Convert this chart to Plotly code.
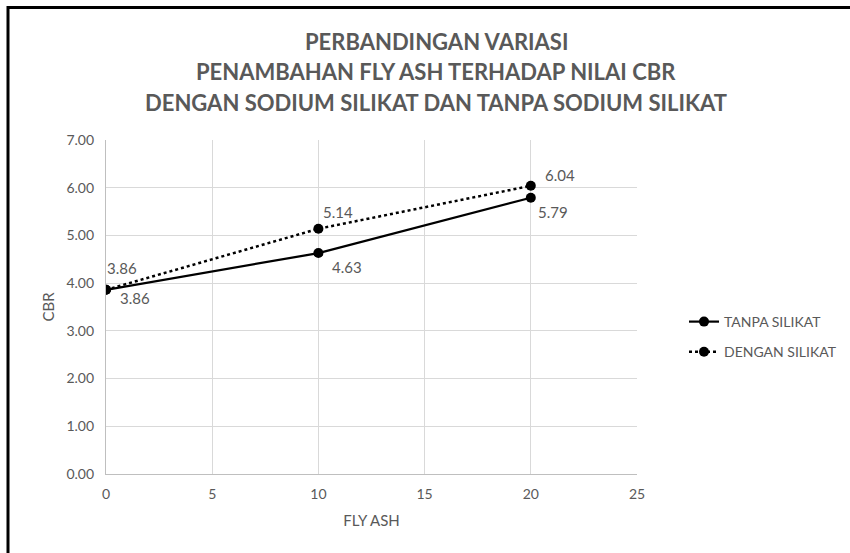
import plotly.graph_objects as go

# Data: fly ash content (%) vs CBR value
fly_ash = [0, 10, 20]
cbr_tanpa = [3.86, 4.63, 5.79]
cbr_dengan = [3.86, 5.14, 6.04]
series_names = ["TANPA SILIKAT", "DENGAN SILIKAT"]
title_lines = [
    "PERBANDINGAN VARIASI",
    "PENAMBAHAN FLY ASH TERHADAP NILAI CBR",
    "DENGAN SODIUM SILIKAT DAN TANPA SODIUM SILIKAT",
]
x_ticks = [0, 5, 10, 15, 20, 25]
y_ticks = [0, 1, 2, 3, 4, 5, 6, 7]

W, H = 850, 553
L, R, T, B = 106, 637, 140, 474  # plot area in pixels
FONT = "Lato"
GREY = "#595959"

def px(xp):
    return (xp - L) / (R - L)

def py(yp):
    return (B - yp) / (B - T)

fig = go.Figure()
fig.add_trace(go.Scatter(
    x=fly_ash, y=cbr_tanpa, name=series_names[0], mode="lines+markers",
    line=dict(color="black", width=2.2),
    marker=dict(color="black", size=10),
    legendgroup="a",
))
fig.add_trace(go.Scatter(
    x=fly_ash, y=cbr_dengan, name=series_names[1], mode="lines+markers",
    line=dict(color="black", width=2.5, dash="dot"),
    marker=dict(color="black", size=10),
    legendgroup="b",
))

# Data labels (pixel offsets from each point)
tanpa_offsets = [(29, -8), (29, -14), (22, -14)]
dengan_offsets = [(16, 22), (20, 17), (29, 11)]
for xs, ys, offs in ((fly_ash, cbr_tanpa, tanpa_offsets), (fly_ash, cbr_dengan, dengan_offsets)):
    for xv, yv, (dx, dy) in zip(xs, ys, offs):
        fig.add_annotation(
            x=xv, y=yv, xref="x", yref="y", text=f"{yv:.2f}", showarrow=False,
            xshift=dx, yshift=dy, font=dict(family=FONT, size=15, color=GREY),
        )

# Title lines
for line, ypix in zip(title_lines, [41, 72, 102]):
    fig.add_annotation(
        x=px(436), y=py(ypix), xref="paper", yref="paper", xanchor="center", yanchor="middle",
        text=f"<b>{line}</b>", showarrow=False,
        font=dict(family=FONT, size=22, color=GREY),
    )

# Frame along the top and left edges of the image
fig.add_shape(type="line", xref="paper", yref="paper",
              x0=px(8), y0=py(7.5), x1=px(W + 5), y1=py(7.5),
              line=dict(color="black", width=3))
fig.add_shape(type="line", xref="paper", yref="paper",
              x0=px(8), y0=py(6), x1=px(8), y1=py(H + 5),
              line=dict(color="black", width=3))

axis_common = dict(
    showgrid=True, gridcolor="#d9d9d9", gridwidth=1.3,
    showline=True, linecolor="#bfbfbf", linewidth=1.3,
    zeroline=False, ticks="",
    tickfont=dict(family=FONT, size=14, color=GREY),
)

fig.update_xaxes(
    range=[0, 25], tickvals=x_ticks, ticktext=[str(v) for v in x_ticks],
    title=dict(text="FLY ASH", font=dict(family=FONT, size=15, color=GREY), standoff=14),
    ticklabelstandoff=7, **axis_common,
)
fig.update_yaxes(
    range=[0, 7], tickvals=y_ticks, ticktext=[f"{v:.2f}" for v in y_ticks],
    title=dict(text="CBR", font=dict(family=FONT, size=15, color=GREY), standoff=8),
    ticklabelstandoff=8, **axis_common,
)

fig.update_layout(
    width=W, height=H,
    margin=dict(l=L, r=W - R, t=T, b=H - B, autoexpand=False),
    paper_bgcolor="white", plot_bgcolor="white",
    showlegend=True,
    legend=dict(
        x=px(684), y=py(337), xanchor="left", yanchor="middle",
        font=dict(family=FONT, size=14, color=GREY),
        tracegroupgap=9, bgcolor="rgba(0,0,0,0)",
    ),
)

fig.write_html("out.html")
